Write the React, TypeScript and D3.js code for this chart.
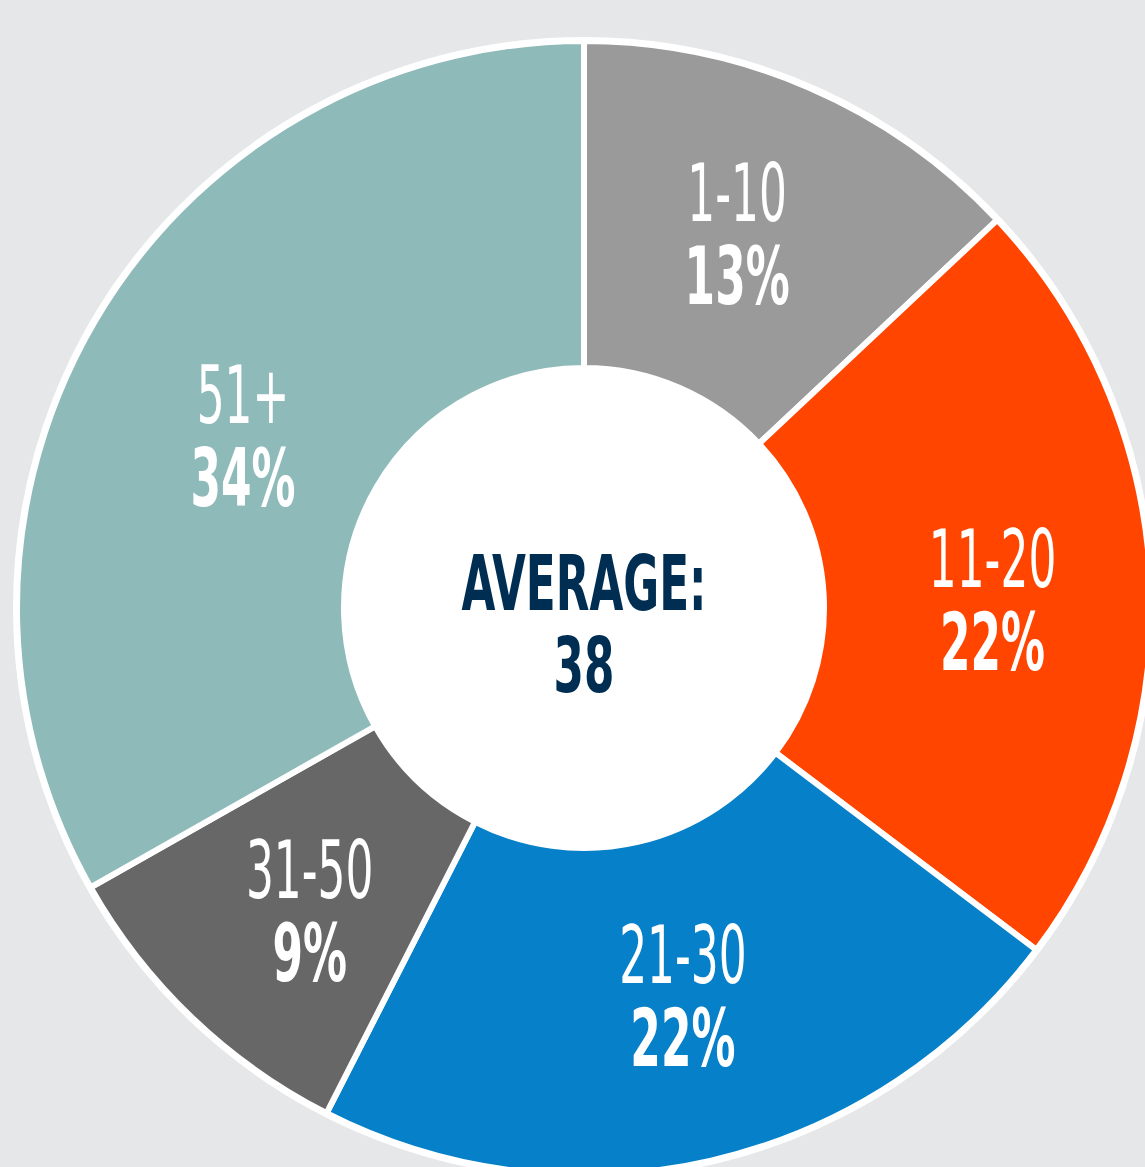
// AgeDonut.tsx
import React, { useRef, useEffect } from 'react';
import * as d3 from 'd3';

// data
const categories = ['1-10', '11-20', '21-30', '31-50', '51+'];
const shares = [13, 22.3, 22.2, 9.3, 33.2]; // slice sizes as drawn
const shareLabels = ['13%', '22%', '22%', '9%', '34%'];
const sliceColors = ['#9a9a9a', '#ff4500', '#0680c8', '#676767', '#8fbaba'];
const averageLabel = 'AVERAGE:';
const averageValue = 38;

// label nudges (radius, angle offset in degrees) to follow the original layout
const labelNudge = [
  [378, 0.5],
  [409, 5.8],
  [428, -0.4],
  [430, -4.1],
  [370, -7.4],
];

const App = () => {
  const ref = useRef<HTMLDivElement>(null);

  useEffect(() => {
    const width = 1145;
    const height = 1167;
    const cx = 584;
    const cy = 608;
    const outerR = 567;
    const innerR = 240;
    const fontStack = "'Liberation Sans Narrow', 'DejaVu Sans Condensed', 'Arial Narrow', sans-serif";
    const squeeze = 0.61;

    const root = d3.select(ref.current);
    root.selectAll('*').remove();

    const svg = root
      .append('svg')
      .attr('width', width)
      .attr('height', height)
      .attr('viewBox', [0, 0, width, height].join(' '))
      .style('display', 'block');

    svg.append('rect').attr('width', width).attr('height', height).attr('fill', '#e6e7e8');

    const g = svg.append('g').attr('transform', `translate(${cx},${cy})`);

    const pie = d3.pie<number>().sort(null).value(d => d);
    const arcs = pie(shares);
    const arc = d3.arc<d3.PieArcDatum<number>>().innerRadius(innerR).outerRadius(outerR);

    // outer white ring
    g.append('circle')
      .attr('r', outerR + 1)
      .attr('fill', 'none')
      .attr('stroke', '#fff')
      .attr('stroke-width', 6);

    g.append('g')
      .selectAll('path')
      .data(arcs)
      .join('path')
      .attr('d', arc)
      .attr('fill', (d, i) => sliceColors[i])
      .attr('stroke', '#fff')
      .attr('stroke-width', 6)
      .attr('stroke-linejoin', 'miter');

    // center hole
    g.append('circle').attr('r', innerR).attr('fill', '#fff');

    // slice labels
    const labels = g
      .append('g')
      .selectAll('g')
      .data(arcs)
      .join('g')
      .attr('transform', (d, i) => {
        const [r, da] = labelNudge[i];
        const a = (d.startAngle + d.endAngle) / 2 + (da * Math.PI) / 180;
        const x = Math.sin(a) * r;
        const y = -Math.cos(a) * r;
        return `translate(${x},${y}) scale(${squeeze},1)`;
      })
      .attr('fill', '#fff')
      .attr('text-anchor', 'middle')
      .style('font-family', fontStack);

    labels
      .append('text')
      .attr('y', -41)
      .attr('font-size', 80)
      .attr('font-weight', 400)
      .text((d, i) => categories[i]);

    labels
      .append('text')
      .attr('y', 42)
      .attr('font-size', 80)
      .attr('font-weight', 700)
      .text((d, i) => shareLabels[i]);

    // average in the middle
    const avg = g
      .append('g')
      .attr('transform', `scale(0.64,1)`)
      .attr('fill', '#002d52')
      .attr('text-anchor', 'middle')
      .attr('font-weight', 700)
      .style('font-family', fontStack);

    avg.append('text').attr('y', 2).attr('font-size', 76).text(averageLabel);
    avg.append('text').attr('y', 84).attr('font-size', 76).text(averageValue);
  }, []);

  return <div ref={ref} style={{ position: 'absolute', left: 0, top: 0 }} />;
};

export default App;
